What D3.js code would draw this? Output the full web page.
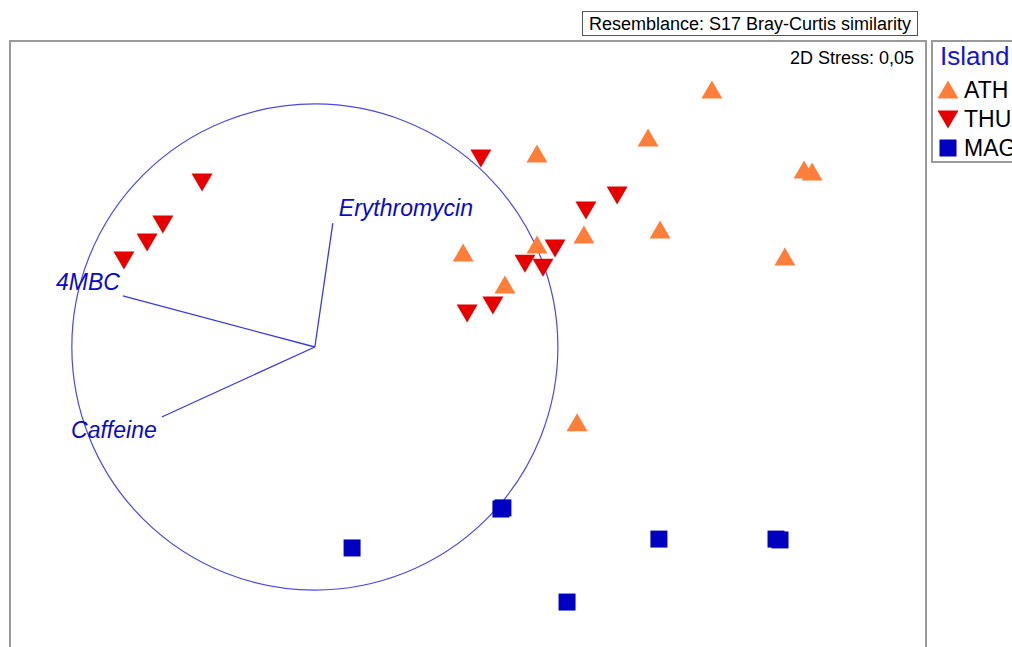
<!DOCTYPE html>
<html>
<head>
<meta charset="utf-8">
<script src="https://cdn.jsdelivr.net/npm/d3@7"></script>
<style>
body { margin: 0; background: #fff; }
svg { display: block; font-family: "Liberation Sans", Arial, sans-serif; }
</style>
</head>
<body>
<svg id="chart" width="1012" height="647"></svg>
<script>
// nMDS coordinates (MDS1, MDS2)
var athX = [0.852, 0.629, 0.241, 1.174, 1.202, 0.671, 0.405, 1.107, -0.017, 0.241, 0.129, 0.381];
var athY = [0.929, 0.761, 0.705, 0.649, 0.642, 0.440, 0.422, 0.345, 0.359, 0.387, 0.248, -0.234];
var thuX = [0.045, 0.521, 0.412, 0.304, 0.199, 0.262, 0.087, -0.003, -0.929, -1.066, -1.121, -1.202];
var thuY = [0.691, 0.562, 0.510, 0.377, 0.324, 0.310, 0.178, 0.150, 0.607, 0.461, 0.398, 0.335];
var magX = [-0.405, 0.115, 0.122, 0.667, 1.076, 1.090, 0.346];
var magY = [-0.671, -0.535, -0.531, -0.640, -0.640, -0.643, -0.860];

var islands = ["ATH", "THU", "MAG"];

// vector overlay (Pearson correlations)
var vecNames = ["Erythromycin", "4MBC", "Caffeine"];
var vecX = [0.074, -0.790, -0.630];
var vecY = [0.510, 0.210, -0.288];
var vecOrigin = [-0.535, 0.031];
var circleRadius = 0.849;   // in MDS units, correlation 1

var stressText = "2D Stress: 0,05";
var resemblance = "Resemblance: S17 Bray-Curtis similarity";

var svg = d3.select("#chart");

// plot frame
var fLeft = 10, fTop = 41, fRight = 926, fBottom = 672;
var unit = (fRight - fLeft) / 3.2;
var x = d3.scaleLinear().domain([-1.6, 1.6]).range([fLeft, fRight]);
var y = d3.scaleLinear().domain([1.1, -1.1]).range([fTop, fTop + 2.2 * unit]);

svg.append("rect")
  .attr("x", fLeft).attr("y", fTop)
  .attr("width", fRight - fLeft).attr("height", fBottom - fTop)
  .attr("fill", "none").attr("stroke", "#9a9a9a").attr("stroke-width", 2);

// resemblance box
svg.append("rect")
  .attr("x", 582.5).attr("y", 11.5).attr("width", 335).attr("height", 24)
  .attr("fill", "#fff").attr("stroke", "#555").attr("stroke-width", 1);
svg.append("text")
  .attr("x", 750).attr("y", 29.5)
  .attr("text-anchor", "middle").attr("font-size", 18)
  .text(resemblance);

svg.append("text")
  .attr("x", 914).attr("y", 64)
  .attr("text-anchor", "end").attr("font-size", 18)
  .text(stressText);

// vectors + circle
var ox = x(vecOrigin[0]), oy = y(vecOrigin[1]);
svg.append("circle")
  .attr("cx", ox).attr("cy", oy).attr("r", circleRadius * unit)
  .attr("fill", "none").attr("stroke", "#4a4ae6").attr("stroke-width", 1.2);

var labelOffset = [[6, -7, "start"], [-3, -6, "end"], [-5, 21, "end"]];
vecNames.forEach(function(name, i) {
  var ex = x(vecOrigin[0] + vecX[i] * circleRadius);
  var ey = y(vecOrigin[1] + vecY[i] * circleRadius);
  svg.append("line")
    .attr("x1", ox).attr("y1", oy).attr("x2", ex).attr("y2", ey)
    .attr("stroke", "#3a3ae0").attr("stroke-width", 1.3);
  svg.append("text")
    .attr("x", ex + labelOffset[i][0]).attr("y", ey + labelOffset[i][1])
    .attr("text-anchor", labelOffset[i][2])
    .attr("font-size", 23).attr("font-style", "italic")
    .attr("fill", "#0a0ac8")
    .text(name);
});

// symbols
var triUp = "M0,-9.5L10.5,8.5L-10.5,8.5Z";
var triDown = "M0,9.5L10.5,-8.5L-10.5,-8.5Z";
var sq = "M-8.5,-8.5H8.5V8.5H-8.5Z";
var colors = { ATH: "#ff7f3a", THU: "#e60000", MAG: "#0000c0" };
var shapes = { ATH: triUp, THU: triDown, MAG: sq };

function drawGroup(xs, ys, key) {
  svg.append("g").selectAll("path")
    .data(d3.zip(xs, ys))
    .join("path")
    .attr("d", shapes[key])
    .attr("transform", function(d) { return "translate(" + x(d[0]) + "," + y(d[1]) + ")"; })
    .attr("fill", colors[key]);
}
drawGroup(athX, athY, "ATH");
drawGroup(thuX, thuY, "THU");
drawGroup(magX, magY, "MAG");

// legend
var lg = svg.append("g");
lg.append("rect")
  .attr("x", 932).attr("y", 41).attr("width", 100).attr("height", 121)
  .attr("fill", "#fff").attr("stroke", "#9a9a9a").attr("stroke-width", 2);
lg.append("text")
  .attr("x", 940).attr("y", 65).attr("font-size", 26).attr("fill", "#1414d2")
  .text("Island");
islands.forEach(function(k, i) {
  var cy = 90 + i * 29;
  lg.append("path").attr("d", shapes[k])
    .attr("transform", "translate(948," + cy + ")")
    .attr("fill", colors[k]);
  lg.append("text")
    .attr("x", 964).attr("y", cy + 8).attr("font-size", 23)
    .text(k);
});
</script>
</body>
</html>
